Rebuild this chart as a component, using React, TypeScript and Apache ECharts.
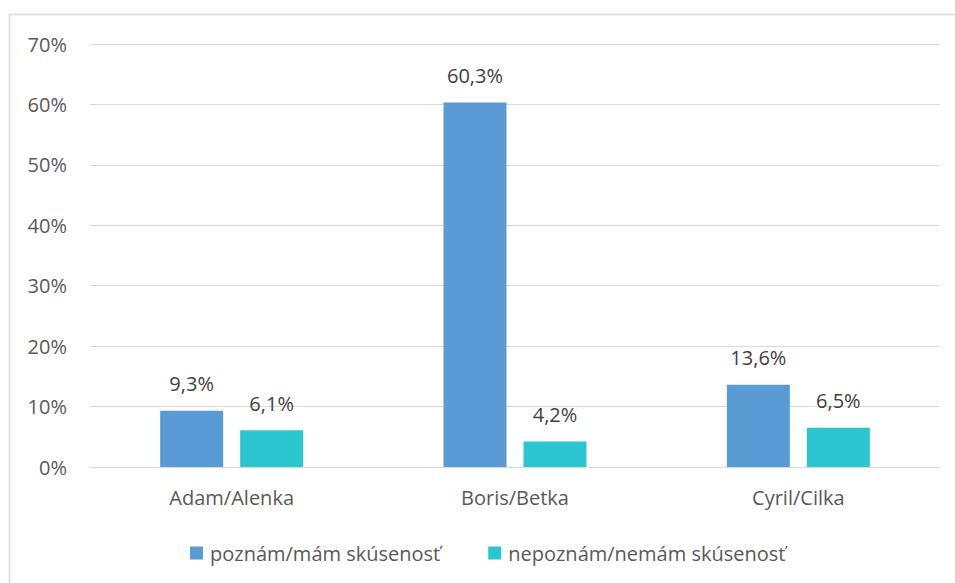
import React, { useEffect, useRef } from "react";
import * as echarts from "echarts";

const categories = ["Adam/Alenka", "Boris/Betka", "Cyril/Cilka"];
const seriesNames = ["poznám/mám skúsenosť", "nepoznám/nemám skúsenosť"];
const known = [9.3, 60.3, 13.6];
const unknown = [6.1, 4.2, 6.5];
const colors = ["#5B9BD5", "#2CC6D0"];

const FONT = "'Open Sans', sans-serif";
const TEXT = "#595959";

export default function App() {
  const ref = useRef<HTMLDivElement>(null);
  useEffect(() => {
    if (!ref.current) return;
    const chart = echarts.init(ref.current, undefined, { renderer: "svg" });
    const label = {
      show: true,
      position: "top",
      distance: 17,
      color: "#404040",
      fontSize: 20,
      fontFamily: FONT,
      formatter: (p: any) => p.value.toFixed(1).replace(".", ",") + "%",
    };
    chart.setOption({
      animation: false,
      backgroundColor: "#ffffff",
      textStyle: { fontFamily: FONT },
      graphic: [
        {
          type: "rect",
          shape: { x: 9.5, y: 14.5, width: 960, height: 600 },
          style: { fill: "none", stroke: "#d9d9d9", lineWidth: 1.5 },
          silent: true,
        },
      ],
      grid: { left: 90, right: 15, top: 44, bottom: 116 },
      legend: {
        left: 185,
        top: 538,
        itemWidth: 13,
        itemHeight: 13,
        itemGap: 48,
        icon: "rect",
        textStyle: { color: TEXT, fontSize: 20, fontFamily: FONT, padding: [0, 0, 0, 2] },
        data: seriesNames,
      },
      xAxis: {
        type: "category",
        data: categories,
        axisLine: { lineStyle: { color: "#d9d9d9", width: 1 } },
        axisTick: { show: false },
        axisLabel: { color: TEXT, fontSize: 20, fontFamily: FONT, margin: 20 },
      },
      yAxis: {
        type: "value",
        min: 0,
        max: 70,
        interval: 10,
        axisLine: { show: false },
        axisTick: { show: false },
        splitLine: { lineStyle: { color: "#d9d9d9", width: 1 } },
        axisLabel: {
          color: TEXT,
          fontSize: 20,
          fontFamily: FONT,
          margin: 23,
          formatter: (v: number) => v + "%",
        },
      },
      series: [
        {
          name: seriesNames[0],
          type: "bar",
          data: known,
          barWidth: 63,
          barGap: "27%",
          itemStyle: { color: colors[0] },
          label,
        },
        {
          name: seriesNames[1],
          type: "bar",
          data: unknown,
          barWidth: 63,
          barGap: "27%",
          itemStyle: { color: colors[1] },
          label,
        },
      ],
    });
    return () => chart.dispose();
  }, []);
  return (
    <div
      ref={ref}
      style={{ position: "fixed", left: 0, top: 0, width: 955, height: 583 }}
    />
  );
}
